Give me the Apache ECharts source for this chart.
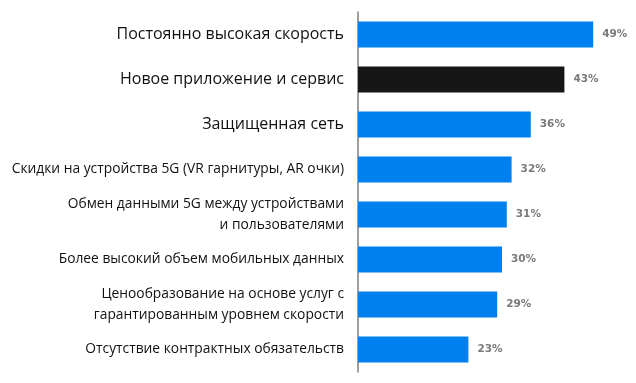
<!DOCTYPE html>
<html><head><meta charset="utf-8">
<script src="https://cdn.jsdelivr.net/npm/echarts@6/dist/echarts.min.js"></script>
<style>html,body{margin:0;padding:0;background:#fff}#c{width:636px;height:383px}</style>
</head><body><div id="c"></div>
<script>
const categories = [
  'Постоянно высокая скорость',
  'Новое приложение и сервис',
  'Защищенная сеть',
  'Скидки на устройства 5G (VR гарнитуры, AR очки)',
  'Обмен данными 5G между устройствами\nи пользователями',
  'Более высокий объем мобильных данных',
  'Ценообразование на основе услуг с\nгарантированным уровнем скорости',
  'Отсутствие контрактных обязательств'
];
const values = [49, 43, 36, 32, 31, 30, 29, 23];
const highlightIndex = 1;

const chart = echarts.init(document.getElementById('c'), null, {renderer: 'canvas'});
chart.setOption({
  animation: false,
  grid: {left: 358, right: 38, top: 12, bottom: 11, containLabel: false},
  xAxis: {type: 'value', min: 0, max: 50, show: false},
  yAxis: {
    type: 'category', inverse: true, data: categories,
    axisLine: {show: true, lineStyle: {color: '#808080', width: 1.5}},
    axisTick: {show: false},
    axisLabel: {
      margin: 14, color: '#111', align: 'right',
      fontFamily: 'Open Sans',
      formatter: function (v, i) {
        const t = i < 3 ? 'b' : 's';
        return v.split('\n').map(l => '{' + t + '|' + l + '}').join('\n');
      },
      rich: {
        b: {fontSize: 16, fontFamily: 'Open Sans', color: '#111', lineHeight: 21, align: 'right'},
        s: {fontSize: 13.8, fontFamily: 'Open Sans', color: '#111', lineHeight: 21, align: 'right'}
      }
    }
  },
  series: [{
    type: 'bar', barWidth: 26,
    data: values.map((v, i) => ({value: v, itemStyle: {color: i === highlightIndex ? '#161616' : '#0080ef'}})),
    label: {show: true, position: 'right', distance: 9, formatter: '{c}%', color: '#7a7a7a', fontSize: 10.5, fontWeight: 'bold', fontFamily: 'DejaVu Sans'}
  }]
});
</script></body></html>
